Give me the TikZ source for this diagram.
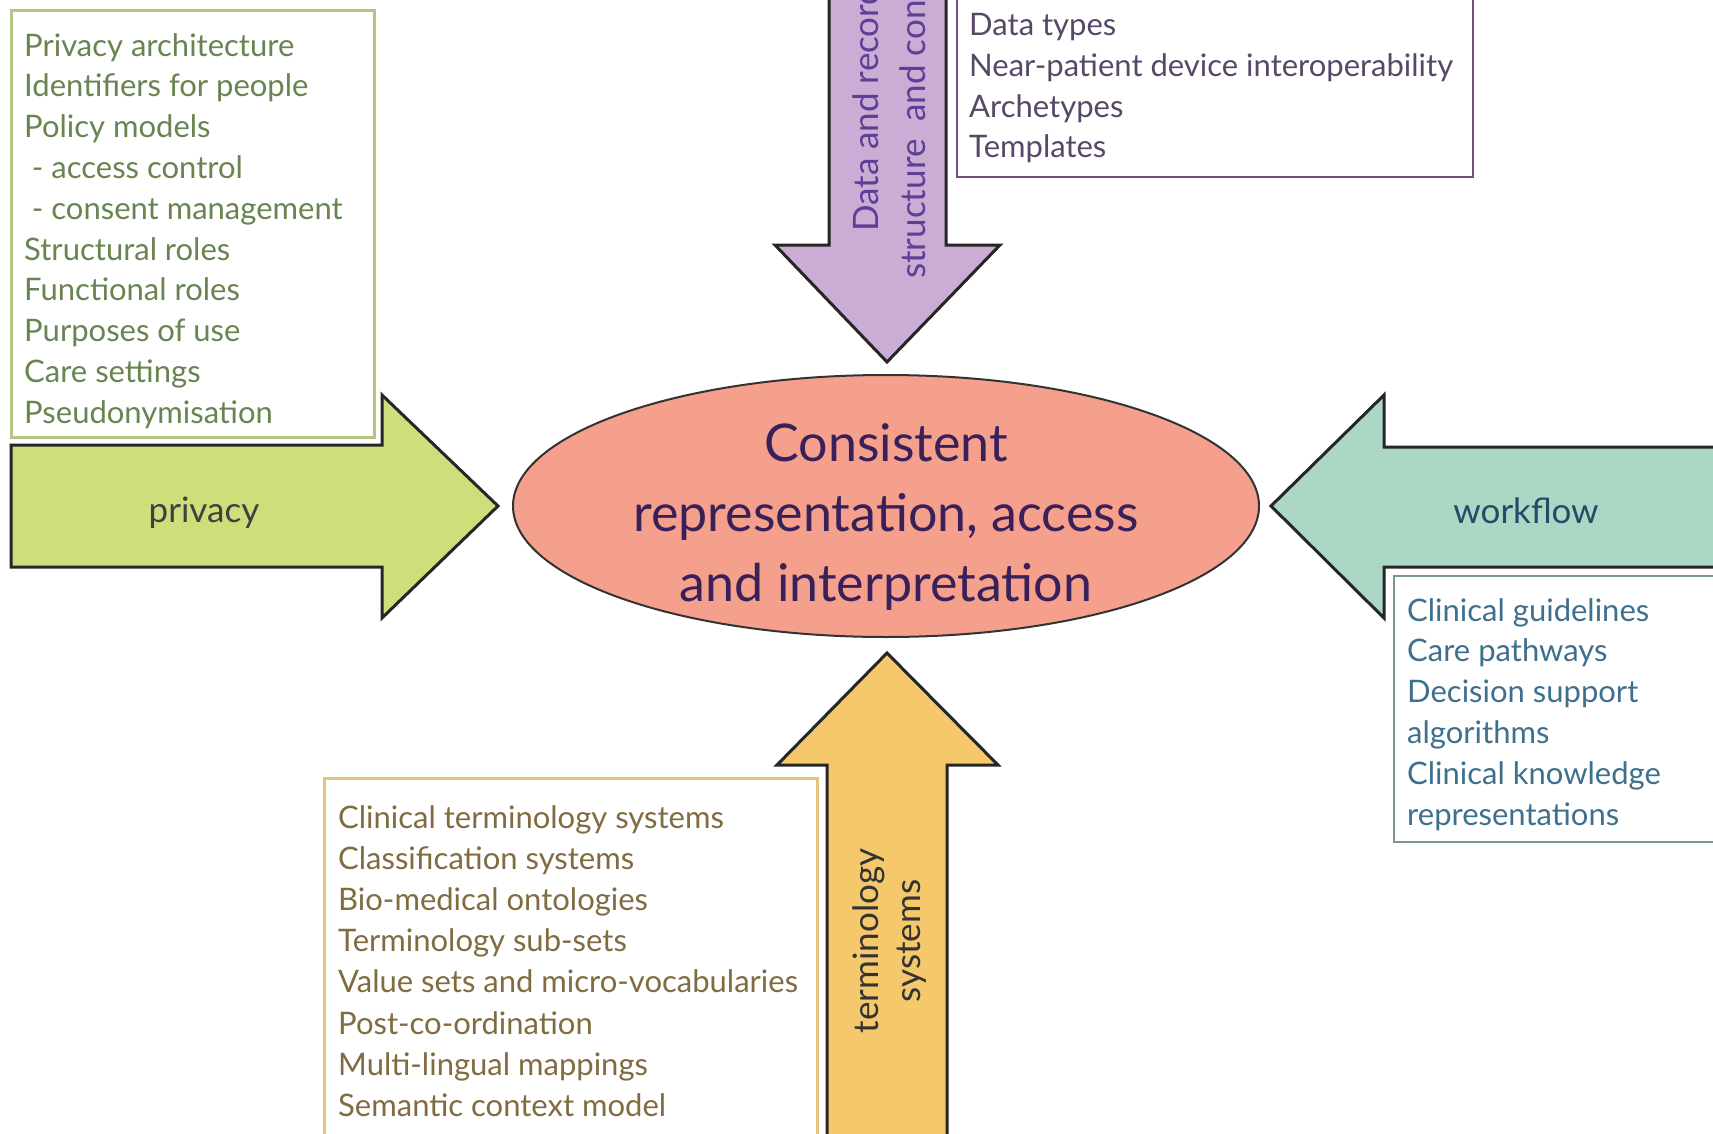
\documentclass[tikz,border=0pt]{standalone}
\usepackage{fontspec}
\setmainfont{Lato}
\usetikzlibrary{shapes.geometric}

\definecolor{privfill}{RGB}{206,222,122}
\definecolor{privline}{RGB}{178,200,130}
\definecolor{privtext}{RGB}{104,132,80}
\definecolor{datafill}{RGB}{202,172,212}
\definecolor{dataline}{RGB}{112,78,132}
\definecolor{datatext}{RGB}{88,72,104}
\definecolor{datalabel}{RGB}{92,64,150}
\definecolor{flowfill}{RGB}{170,216,196}
\definecolor{flowline}{RGB}{120,150,150}
\definecolor{flowtext}{RGB}{62,112,142}
\definecolor{flowlabel}{RGB}{40,72,104}
\definecolor{termfill}{RGB}{246,200,108}
\definecolor{termline}{RGB}{232,196,130}
\definecolor{termtext}{RGB}{128,108,64}
\definecolor{centrefill}{RGB}{244,160,140}
\definecolor{centretext}{RGB}{58,32,88}

\tikzset{
  bigarrow/.style={draw=black!85, line width=3pt, line join=miter},
  listbox/.style={line width=3pt},
  listtext/.style={anchor=north west, align=left, inner sep=0pt,
    font=\fontsize{31}{40.8}\selectfont},
  armlabel/.style={inner sep=0pt, font=\fontsize{35}{42}\selectfont},
}

\begin{document}
\begin{tikzpicture}[x=1pt, y=-1pt]
\path[use as bounding box] (0,0) rectangle (1713,1134);
\clip (0,0) rectangle (1713,1134);
\fill[white] (0,0) rectangle (1713,1134);

% ---- list boxes ----
\draw[listbox, draw=privline] (11,11) rectangle (374,437);
\node[listtext, text=privtext] (privlist) at (24,33) {%
Privacy architecture\\
Identifiers for people\\
Policy models\\
\hspace{0.25em}- access control\\
\hspace{0.25em}- consent management\\
Structural roles\\
Functional roles\\
Purposes of use\\
Care settings\\
Pseudonymisation};

\draw[line width=2.5pt, draw=dataline] (957,-20) rectangle (1473,177);
\node[listtext, text=datatext] (datalist) at (969,13) {%
Data types\\
Near-patient device interoperability\\
Archetypes\\
Templates};

\draw[line width=2.5pt, draw=flowline] (1394,576) rectangle (1730,842);
\node[listtext, text=flowtext] (flowlist) at (1407,598) {%
Clinical guidelines\\
Care pathways\\
Decision support\\
algorithms\\
Clinical knowledge\\
representations};

\draw[listbox, draw=termline] (324,778) rectangle (817,1150);
\node[listtext, text=termtext, font=\fontsize{31}{41.2}\selectfont] (termlist) at (338,805) {%
Clinical terminology systems\\
Classification systems\\
Bio-medical ontologies\\
Terminology sub-sets\\
Value sets and micro-vocabularies\\
Post-co-ordination\\
Multi-lingual mappings\\
Semantic context model};

% ---- arrows ----
\draw[bigarrow, fill=privfill] (11,445) -- (382,445) -- (382,395) -- (498,506)
  -- (382,618) -- (382,567) -- (11,567) -- cycle;
\node[armlabel, text=black!75] (privlabel) at (204,513) {privacy};

\draw[bigarrow, fill=flowfill] (1730,447) -- (1384,447) -- (1384,395) -- (1271,506)
  -- (1384,618) -- (1384,567) -- (1730,567) -- cycle;
\node[armlabel, text=flowlabel] (flowlabeln) at (1526,511) {workflow};

\draw[bigarrow, fill=datafill] (829,-20) -- (829,245) -- (775,245) -- (887,362)
  -- (1000,245) -- (946,245) -- (946,-20) -- cycle;
\node[armlabel, text=datalabel, rotate=90, anchor=west] (datalabA) at (866,232) {Data and record};
\node[armlabel, text=datalabel, rotate=90, anchor=west] (datalabB) at (913,279) {structure\ \ and content};

\draw[bigarrow, fill=termfill] (827,1150) -- (827,765) -- (777,765) -- (887,653)
  -- (998,765) -- (947,765) -- (947,1150) -- cycle;
\node[armlabel, text=black!80, rotate=90, align=center] (termlabel) at (890,941) {terminology\\systems};

% ---- centre ----
\node[ellipse, draw=black!80, line width=2pt, fill=centrefill,
  minimum width=746pt, minimum height=262pt, inner sep=0pt] (centre) at (886,506) {};
\node[align=center, text=centretext, font=\fontsize{52}{70}\selectfont] (centretxt) at (886,517)
  {Consistent\\representation, access\\and interpretation};
\end{tikzpicture}
\end{document}
